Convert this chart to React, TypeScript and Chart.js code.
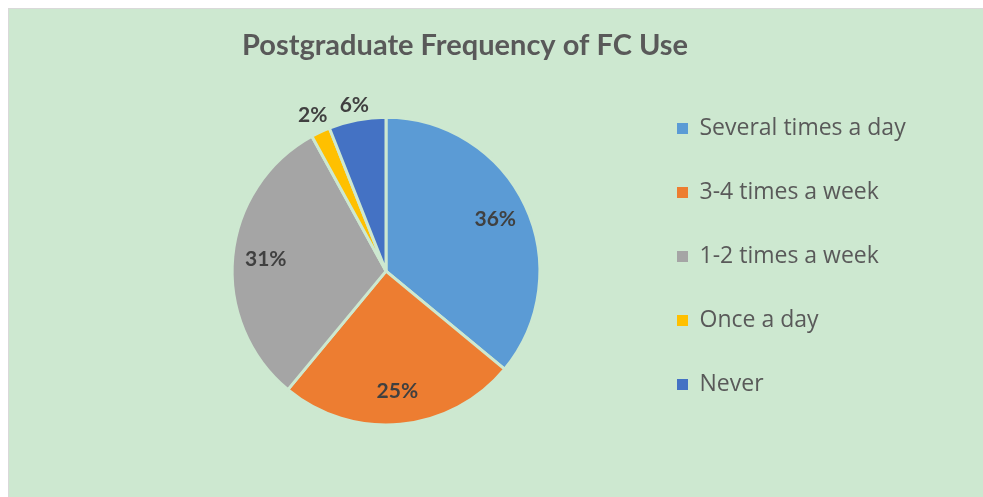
import React, { useEffect, useRef } from "react";
import { Chart, registerables } from "chart.js";

Chart.register(...registerables);

const categories = ["Several times a day", "3-4 times a week", "1-2 times a week", "Once a day", "Never"];
const values = [36, 25, 31, 2, 6];
const colors = ["#5B9BD5", "#ED7D31", "#A5A5A5", "#FFC000", "#4472C4"];
const chartTitle = "Postgraduate Frequency of FC Use";

const BG = "#cde8d0";

const sliceLabels = {
  id: "sliceLabels",
  afterLayout(chart: any) {
    // let legend text run past the narrow legend box without being clipped
    if (chart.legend) {
      chart.legend.right = chart.width;
    }
  },
  afterDatasetsDraw(chart: any) {
    const meta = chart.getDatasetMeta(0);
    const data = chart.data.datasets[0].data as number[];
    const total = data.reduce((a: number, b: number) => a + b, 0);
    const ctx = chart.ctx;
    ctx.save();
    ctx.font = "bold 21px Lato";
    ctx.fillStyle = "#404040";
    ctx.textAlign = "center";
    ctx.textBaseline = "middle";
    meta.data.forEach((arc: any, i: number) => {
      const p = arc.getProps(["x", "y", "startAngle", "endAngle", "outerRadius"], true);
      const mid = (p.startAngle + p.endAngle) / 2;
      const pct = Math.round((data[i] / total) * 100);
      const text = pct + "%";
      const w = ctx.measureText(text).width;
      const h = 15;
      let d: number;
      if (pct >= 10) {
        d = p.outerRadius * 0.785;
      } else {
        d = p.outerRadius + 5 + (Math.abs(Math.cos(mid)) * w) / 2 + (Math.abs(Math.sin(mid)) * h) / 2;
      }
      ctx.fillText(text, p.x + Math.cos(mid) * d, p.y + Math.sin(mid) * d);
    });
    ctx.restore();
  },
};

export default function App() {
  const canvasRef = useRef<HTMLCanvasElement | null>(null);

  useEffect(() => {
    if (!canvasRef.current) return;
    const defaultGen = (Chart as any).overrides.doughnut.plugins.legend.labels.generateLabels;
    const chart = new Chart(canvasRef.current, {
      type: "pie",
      data: {
        labels: categories,
        datasets: [
          {
            data: values,
            backgroundColor: colors,
            borderColor: BG,
            borderWidth: 3,
            hoverBorderWidth: 3,
            radius: "93.6%",
          } as any,
        ],
      },
      options: {
        animation: false,
        responsive: true,
        maintainAspectRatio: false,
        events: [],
        layout: { padding: { left: 127, right: 189, top: 0, bottom: 60 } },
        plugins: {
          tooltip: { enabled: false },
          title: {
            display: true,
            text: chartTitle,
            color: "#595959",
            font: { family: "Lato", size: 29, weight: "bold" },
            padding: { top: 19, bottom: 42.4 },
          },
          legend: {
            display: true,
            position: "right",
            align: "end",
            maxWidth: 158,
            labels: {
              boxWidth: 11,
              boxHeight: 11,
              padding: 41,
              color: "#595959",
              font: { family: "Open Sans", size: 23 },
              generateLabels: (c: any) =>
                defaultGen(c).map((l: any) => ({ ...l, lineWidth: 0, strokeStyle: l.fillStyle })),
            },
          },
        },
      } as any,
      plugins: [sliceLabels],
    });
    return () => chart.destroy();
  }, []);

  return (
    <div
      style={{
        position: "fixed",
        left: 8,
        top: 8,
        right: 0,
        bottom: 0,
        background: BG,
        borderLeft: "1px solid #d9d9d9",
        borderTop: "1px solid #d9d9d9",
      }}
    >
      <div style={{ position: "absolute", left: 0, top: 0, right: 0, bottom: 0 }}>
        <canvas ref={canvasRef} />
      </div>
    </div>
  );
}
